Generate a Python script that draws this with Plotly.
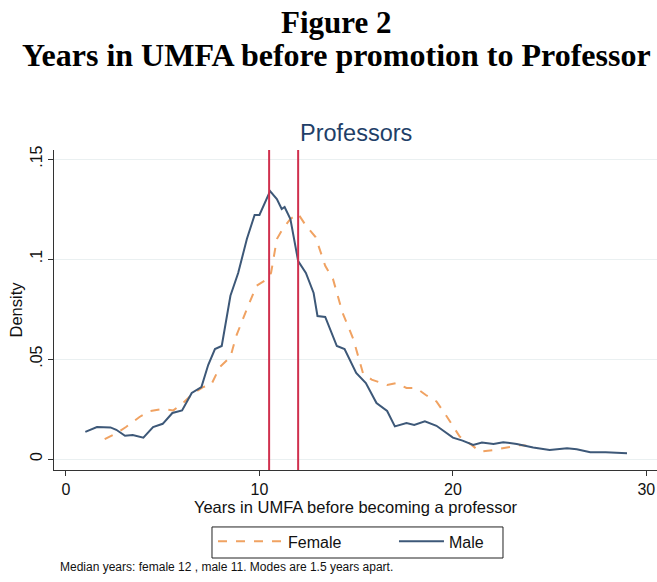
import plotly.graph_objects as go

# ---- data ----
male_years = [1.0, 1.6, 2.3, 2.6, 3.05, 3.45, 4.0, 4.5, 5.0, 5.5, 6.0, 6.5, 7.0, 7.35, 7.7, 8.05,
              8.5, 8.9, 9.35, 9.75, 10.0, 10.55, 10.9, 11.15, 11.3, 11.6, 12.0, 12.4, 12.8, 13.0,
              13.4, 14.0, 14.4, 15.0, 15.5, 16.05, 16.6, 17.0, 17.6, 18.0, 18.55, 19.15, 20.0,
              20.5, 21.05, 21.5, 22.1, 22.6, 23.3, 24.15, 25.0, 25.9, 26.4, 27.1, 27.9, 29.0]
male_density = [0.0136, 0.016, 0.0158, 0.0146, 0.0116, 0.012, 0.0107, 0.016, 0.0176, 0.023, 0.0243,
                0.033, 0.036, 0.047, 0.055, 0.0565, 0.0816, 0.093, 0.110, 0.122, 0.122, 0.134, 0.130,
                0.125, 0.126, 0.120, 0.099, 0.093, 0.083, 0.0715, 0.071, 0.0565, 0.055, 0.043, 0.038,
                0.028, 0.024, 0.0163, 0.018, 0.017, 0.0188, 0.0166, 0.0107, 0.0092, 0.007, 0.0082,
                0.0075, 0.0084, 0.0075, 0.0058, 0.0045, 0.0054, 0.0049, 0.0034, 0.0034, 0.0029]

female_years = [2.0, 2.6, 3.1, 3.8, 4.35, 5.0, 5.55, 6.05, 6.6, 7.1, 7.5, 7.95, 8.5, 8.8, 9.35, 9.85,
                10.4, 10.6, 10.9, 11.2, 11.6, 12.0, 12.4, 12.9, 13.4, 13.8, 14.3, 14.85, 15.35, 15.8,
                16.6, 17.1, 17.6, 18.1, 18.6, 19.15, 19.7, 20.35, 20.9, 21.4, 22.1, 22.95, 23.5, 23.8]
female_density = [0.0099, 0.0129, 0.016, 0.021, 0.024, 0.025, 0.0243, 0.028, 0.033, 0.036, 0.037,
                  0.046, 0.051, 0.0615, 0.075, 0.0866, 0.090, 0.093, 0.110, 0.115, 0.120, 0.1226,
                  0.1167, 0.111, 0.0966, 0.090, 0.073, 0.060, 0.043, 0.0397, 0.037, 0.038, 0.0355,
                  0.0355, 0.032, 0.0288, 0.021, 0.0112, 0.0075, 0.0037, 0.0045, 0.0062, 0.007, 0.0066]

mode_lines = [10.5, 12.0]

x_ticks = [0, 10, 20, 30]
y_ticks = [0, 0.05, 0.1, 0.15]
y_tick_labels = ["0", ".05", ".1", ".15"]

fig = go.Figure()
fig.add_trace(go.Scatter(x=female_years, y=female_density, mode="lines", name="Female",
                         legend="legend",
                         line=dict(color="#f0a262", width=2, dash="dash")))
fig.add_trace(go.Scatter(x=male_years, y=male_density, mode="lines", name="Male",
                         legend="legend2",
                         line=dict(color="#3d5878", width=2)))

for m in mode_lines:
    fig.add_vline(x=m, line=dict(color="#d0304e", width=2), layer="above")

legend_common = dict(orientation="h", xanchor="left", y=-0.17, yanchor="top",
                     borderwidth=0, bgcolor="rgba(0,0,0,0)", font=dict(size=16))

fig.update_layout(
    width=657, height=582,
    margin=dict(l=54, r=0, t=150, b=112),
    paper_bgcolor="white", plot_bgcolor="white",
    font=dict(family="Liberation Sans, Arial, sans-serif", color="#111111"),
    showlegend=True,
    legend=dict(x=0.2637, itemwidth=65, **legend_common),
    legend2=dict(x=0.5638, itemwidth=45, **legend_common),
    xaxis=dict(range=[-0.62, 30.55], tickvals=x_ticks, showgrid=False, zeroline=False,
               showline=True, linecolor="#333333", linewidth=1, ticks="outside", ticklen=5,
               tickcolor="#333333", tickfont=dict(size=16),
               title=dict(text="Years in UMFA before becoming a professor", font=dict(size=16.5),
                          standoff=3)),
    yaxis=dict(range=[-0.0055, 0.1545], tickvals=y_ticks, ticktext=y_tick_labels, tickangle=-90,
               showgrid=True, gridcolor="#eaf0f1", gridwidth=1, zeroline=False,
               showline=True, linecolor="#333333", linewidth=1, ticks="outside", ticklen=5,
               tickcolor="#333333", tickfont=dict(size=16),
               title=dict(text="Density", font=dict(size=16.5), standoff=0)),
)

# legend frame around both legend entries
fig.add_shape(type="rect", xref="paper", yref="paper", x0=0.262, x1=0.7446, y0=-0.275, y1=-0.178,
              line=dict(color="#222222", width=1), fillcolor="rgba(0,0,0,0)")

serif = "Liberation Serif, Times New Roman, serif"
fig.add_annotation(text="<b>Figure 2</b>", xref="paper", yref="paper", x=0.469, y=1.0,
                   yshift=128, showarrow=False, font=dict(family=serif, size=31, color="black"),
                   xanchor="center", yanchor="middle")
fig.add_annotation(text="<b>Years in UMFA before promotion to Professor</b>", xref="paper",
                   yref="paper", x=0.469, y=1.0, yshift=95, showarrow=False,
                   font=dict(family=serif, size=32, color="black"),
                   xanchor="center", yanchor="middle")
fig.add_annotation(text="Professors", xref="paper", yref="paper", x=0.5008, y=1.0, yshift=17,
                   showarrow=False, font=dict(size=23.5, color="#1f3f68"),
                   xanchor="center", yanchor="middle")
fig.add_annotation(text="Median years: female 12 , male 11. Modes are 1.5 years apart.",
                   xref="paper", yref="paper", x=0.0066, y=-0.303, showarrow=False,
                   font=dict(size=12), xanchor="left", yanchor="middle")

fig.write_html("out.html", config={"displayModeBar": False},
               post_script="document.body.style.margin='0px';")
